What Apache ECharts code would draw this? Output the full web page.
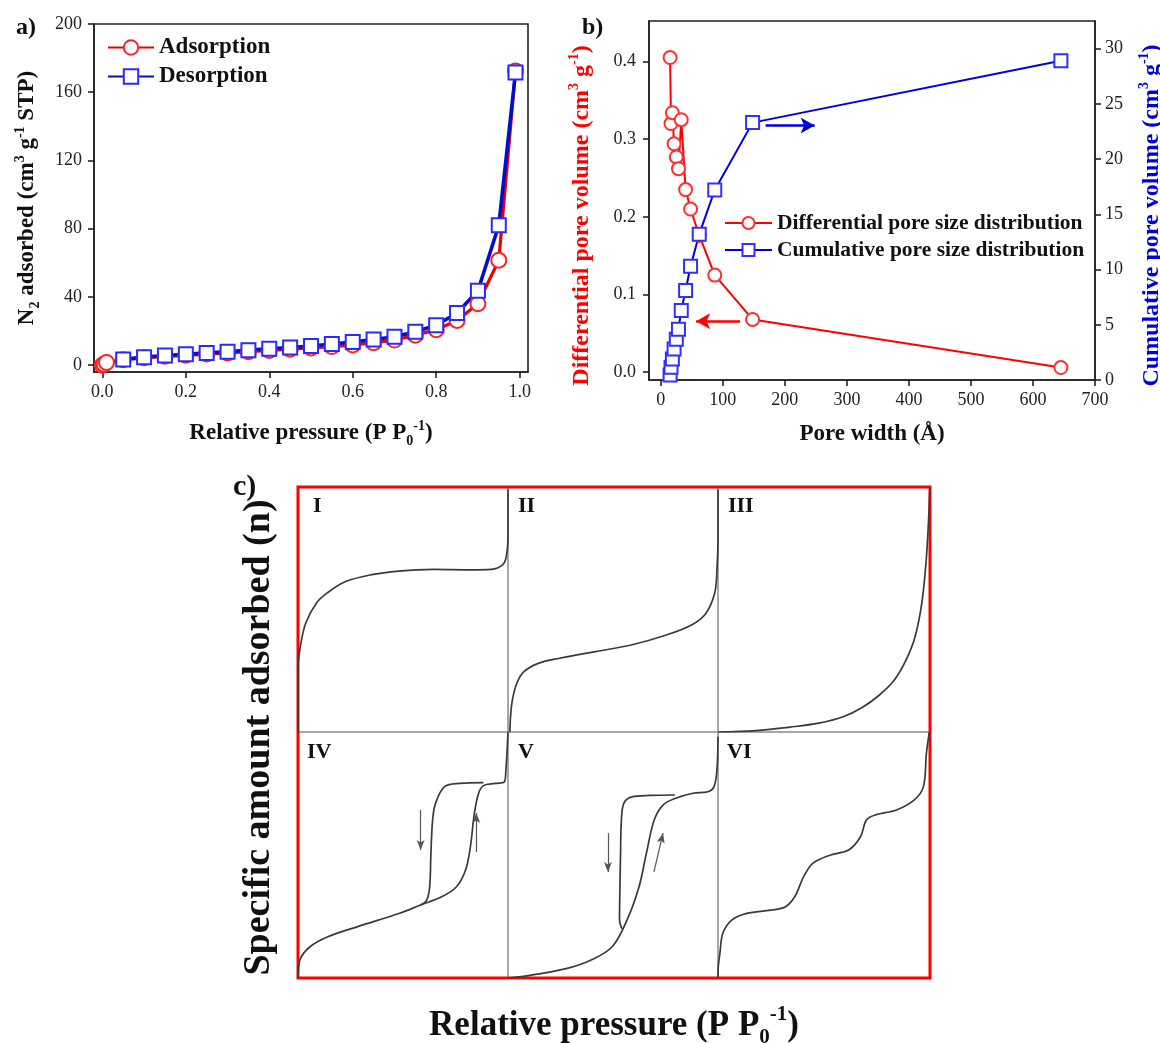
<!DOCTYPE html>
<html><head><meta charset="utf-8">
<script src="https://cdn.jsdelivr.net/npm/echarts@6/dist/echarts.min.js"></script>
<style>html,body{margin:0;padding:0;background:#fff}#chart{width:1160px;height:1043px}</style>
</head><body><div id="chart"></div>
<script>
// ---------- Panel a: N2 isotherm ----------
const adsPressure = [0, 0.004, 0.01, 0.05, 0.10, 0.15, 0.20, 0.25, 0.30, 0.35, 0.40, 0.45, 0.50, 0.55, 0.60, 0.65, 0.70, 0.75, 0.80, 0.85, 0.90, 0.95, 0.99];
const adsorption  = [0, 0.6, 1.6, 3.2, 4.3, 5.2, 5.8, 6.5, 7.2, 7.9, 8.6, 9.4, 10.1, 10.9, 11.9, 13.2, 14.7, 17.6, 20.8, 26.2, 36, 61.5, 172.5];
const desPressure = [0.05, 0.10, 0.15, 0.20, 0.25, 0.30, 0.35, 0.40, 0.45, 0.50, 0.55, 0.60, 0.65, 0.70, 0.75, 0.80, 0.85, 0.90, 0.95, 0.99];
const desorption  = [3.4, 4.7, 5.7, 6.4, 7.2, 7.9, 8.8, 9.6, 10.3, 11.2, 12.4, 13.6, 15.0, 16.7, 19.6, 23.4, 30.6, 43.6, 82, 171.5];
const aXTicks = [0, 0.2, 0.4, 0.6, 0.8, 1.0];
const aYTicks = [0, 40, 80, 120, 160, 200];

// ---------- Panel b: pore size distribution ----------
const poreWidth    = [15, 16.5, 18.7, 21.4, 25, 28.5, 33, 40, 48, 62, 87, 148, 645];
const differential = [0.405, 0.320, 0.334, 0.294, 0.277, 0.262, 0.325, 0.235, 0.210, 0.176, 0.125, 0.068, 0.006];
const cumulative   = [0.45, 1.15, 1.9, 2.8, 3.7, 4.6, 6.3, 8.1, 10.3, 13.2, 17.2, 23.3, 28.9];
const bXTicks = [0, 100, 200, 300, 400, 500, 600, 700];
const bLeftTicks = [0, 0.1, 0.2, 0.3, 0.4];
const bRightTicks = [0, 5, 10, 15, 20, 25, 30];
const redArrow  = [[128, 0.0655], [57, 0.0655]];
const blueArrow = [[169, 23.05], [248, 23.05]];

// ---------- Panel c: IUPAC isotherm types (relative pressure 0..1, amount 0..1) ----------
const typeI_p  = [0, 0, 0.011, 0.037, 0.088, 0.138, 0.224, 0.344, 0.48, 0.649, 0.821, 0.921, 0.974, 0.992, 1.0, 1.0];
const typeI_n  = [0, 0.265, 0.348, 0.445, 0.527, 0.567, 0.613, 0.641, 0.657, 0.664, 0.662, 0.664, 0.682, 0.716, 0.797, 0.99];
const typeII_p = [0.009, 0.012, 0.021, 0.042, 0.076, 0.144, 0.245, 0.416, 0.586, 0.754, 0.874, 0.942, 0.984, 0.995, 1.0, 1.0];
const typeII_n = [0, 0.062, 0.131, 0.199, 0.246, 0.280, 0.301, 0.328, 0.355, 0.396, 0.437, 0.484, 0.566, 0.661, 0.797, 0.99];
const typeIII_p = [0, 0.18, 0.34, 0.475, 0.59, 0.68, 0.76, 0.83, 0.885, 0.93, 0.962, 0.982, 0.993, 1.0];
const typeIII_n = [0, 0.006, 0.02, 0.036, 0.062, 0.10, 0.15, 0.21, 0.29, 0.39, 0.53, 0.70, 0.86, 1.0];
const typeIVads_p = [0, 0.009, 0.057, 0.142, 0.285, 0.484, 0.584, 0.684, 0.755, 0.798, 0.821, 0.840, 0.860, 0.883, 0.940, 0.983, 0.990, 0.995, 1.0];
const typeIVads_n = [0, 0.073, 0.127, 0.168, 0.209, 0.263, 0.297, 0.330, 0.371, 0.439, 0.534, 0.670, 0.751, 0.782, 0.791, 0.798, 0.846, 0.913, 1.0];
const typeIVdes_p = [0.584, 0.613, 0.627, 0.633, 0.641, 0.655, 0.698, 0.770, 0.883];
const typeIVdes_n = [0.297, 0.317, 0.371, 0.507, 0.642, 0.710, 0.778, 0.791, 0.794];
const typeVads_p = [0, 0.111, 0.282, 0.396, 0.496, 0.567, 0.624, 0.659, 0.696, 0.738, 0.795, 0.881, 0.952, 0.981, 0.995, 1.0];
const typeVads_n = [0, 0.012, 0.039, 0.073, 0.127, 0.236, 0.371, 0.507, 0.642, 0.703, 0.730, 0.751, 0.757, 0.778, 0.846, 0.981];
const typeVdes_p = [0.543, 0.531, 0.533, 0.536, 0.540, 0.552, 0.590, 0.676, 0.795];
const typeVdes_n = [0.200, 0.236, 0.371, 0.507, 0.642, 0.711, 0.736, 0.742, 0.744];
const typeVI_p = [0, 0.002, 0.009, 0.023, 0.066, 0.136, 0.249, 0.319, 0.362, 0.390, 0.404, 0.447, 0.531, 0.616, 0.672, 0.700, 0.743, 0.842, 0.926, 0.969, 0.983, 0.997];
const typeVI_n = [0, 0.053, 0.100, 0.182, 0.236, 0.263, 0.276, 0.290, 0.330, 0.385, 0.412, 0.466, 0.500, 0.520, 0.574, 0.642, 0.663, 0.683, 0.724, 0.778, 0.913, 1.0];
const arrowsIV = [[[0.584, 0.683], [0.584, 0.52]], [[0.849, 0.512], [0.849, 0.671]]];
const arrowsV  = [[[0.476, 0.589], [0.476, 0.431]], [[0.695, 0.431], [0.738, 0.589]]];
const panelLabels = ['I', 'II', 'III', 'IV', 'V', 'VI'];

// ---------- build ----------
const FONT = "'Liberation Serif', 'Times New Roman', serif";
const zip = (a, b) => a.map((v, i) => [v, b[i]]);
function rich(fs, color) {
  return {
    b:   {fontFamily: FONT, fontWeight: 'bold', fontSize: fs, color, lineHeight: Math.round(fs * 1.25)},
    sup: {fontFamily: FONT, fontWeight: 'bold', fontSize: Math.round(fs * 0.6), color, lineHeight: Math.round(fs * 0.6), verticalAlign: 'top'},
    sub: {fontFamily: FONT, fontWeight: 'bold', fontSize: Math.round(fs * 0.6), color, lineHeight: Math.round(fs * 0.6), verticalAlign: 'bottom'}
  };
}
const AX = '#222';
function valueAxis(o) {
  return Object.assign({
    type: 'value',
    axisLine: {show: true, onZero: false, lineStyle: {color: AX, width: 1.6}},
    axisTick: {show: true, inside: false, length: 6, lineStyle: {color: AX, width: 1.6}, customValues: o.ticks},
    axisLabel: {customValues: o.ticks, fontFamily: FONT, fontSize: 18, color: AX, margin: o.margin, formatter: o.fmt},
    splitLine: {show: false},
    nameLocation: 'middle'
  }, o.extra);
}

const cCols = [298, 508, 718], cW = [210, 210, 212];
const cRows = [487, 732], cH = [245, 246];
const NB = {outerBoundsMode: 'none', containLabel: false};
const grids = [
  Object.assign({left: 94, top: 24, width: 434, height: 348, show: true, borderColor: AX, borderWidth: 1.6}, NB),
  Object.assign({left: 649, top: 21, width: 446, height: 359, show: true, borderColor: AX, borderWidth: 1.6}, NB)
];
for (let r = 0; r < 2; r++) for (let c = 0; c < 3; c++)
  grids.push(Object.assign({left: cCols[c], top: cRows[r], width: cW[c], height: cH[r], show: true, borderColor: '#8a8a8a', borderWidth: 1}, NB));
grids.push(Object.assign({left: 298, top: 487, width: 632, height: 491, show: true, borderColor: '#ff0000', borderWidth: 3}, NB));

const xAxes = [
  valueAxis({ticks: aXTicks, margin: 11, fmt: v => v.toFixed(1), extra: {gridIndex: 0, min: -0.02, max: 1.02,
    name: '{b|Relative pressure (P P}{sub|0}{sup|-1}{b|)}', nameGap: 47, nameTextStyle: {rich: rich(23, '#111')}}}),
  valueAxis({ticks: bXTicks, margin: 11, fmt: v => String(v), extra: {gridIndex: 1, min: -19, max: 700,
    name: '{b|Pore width (Å)}', nameGap: 40, nameTextStyle: {rich: rich(23, '#111')}}})
];
const yAxes = [
  valueAxis({ticks: aYTicks, margin: 12, fmt: v => String(v), extra: {gridIndex: 0, min: -4, max: 200,
    name: '{b|N}{sub|2}{b| adsorbed (cm}{sup|3}{b| g}{sup|-1}{b| STP)}', nameGap: 52, nameTextStyle: {rich: rich(23, '#111')}}}),
  valueAxis({ticks: bLeftTicks, margin: 13, fmt: v => v.toFixed(1), extra: {gridIndex: 1, min: -0.01, max: 0.452,
    name: '{b|Differential pore volume (cm}{sup|3}{b| g}{sup|-1}{b|)}', nameGap: 52,
    nameTextStyle: {rich: rich(24, '#ff0000'), padding: [0, 30, 0, 0]}}}),
  valueAxis({ticks: bRightTicks, margin: 10, fmt: v => String(v), extra: {gridIndex: 1, position: 'right', min: 0, max: 32.5,
    name: '{b|Cumulative pore volume (cm}{sup|3}{b| g}{sup|-1}{b|)}', nameGap: 42, nameRotate: 90,
    nameTextStyle: {rich: rich(24, '#0000dd'), padding: [0, 30, 0, 0]}}})
];
for (let i = 0; i < 6; i++) {
  xAxes.push({type: 'value', gridIndex: 2 + i, min: 0, max: 1, show: false});
  yAxes.push({type: 'value', gridIndex: 2 + i, min: 0, max: 1, show: false});
}
const hid = {axisLine: {show: false}, axisTick: {show: false}, axisLabel: {show: false}, splitLine: {show: false}};
xAxes.push(Object.assign({type: 'value', gridIndex: 8, min: 0, max: 1, nameLocation: 'middle', nameGap: 26,
  name: '{b|Relative pressure (P P}{sub|0}{sup|-1}{b|)}', nameTextStyle: {rich: rich(35, '#111')}}, hid));
yAxes.push(Object.assign({type: 'value', gridIndex: 8, min: 0, max: 1, nameLocation: 'middle', nameGap: 20,
  name: 'Specific amount adsorbed (n)',
  nameTextStyle: {fontFamily: FONT, fontWeight: 'bold', fontSize: 38, color: '#111', padding: [0, 10, 0, 0]}}, hid));

const series = [
  {name: 'Adsorption', type: 'line', xAxisIndex: 0, yAxisIndex: 0, data: zip(adsPressure, adsorption),
   symbol: 'emptyCircle', symbolSize: 15, lineStyle: {color: '#ee0000', width: 3.2}, itemStyle: {color: '#ff2020', borderWidth: 1.2}},
  {name: 'Desorption', type: 'line', xAxisIndex: 0, yAxisIndex: 0, data: zip(desPressure, desorption),
   symbol: 'emptyRect', symbolSize: 14, lineStyle: {color: '#0010c8', width: 3.6}, itemStyle: {color: '#2a2aff', borderWidth: 1.2}},
  {name: 'Differential pore size distribution', type: 'line', xAxisIndex: 1, yAxisIndex: 1, data: zip(poreWidth, differential),
   symbol: 'emptyCircle', symbolSize: 13, lineStyle: {color: '#ff0000', width: 2}, itemStyle: {color: '#ff3030', borderWidth: 1},
   markLine: {silent: true, symbol: ['none', 'arrow'], symbolSize: [12, 14], label: {show: false},
     lineStyle: {color: '#ff0000', width: 2.5, type: 'solid'},
     data: [[{coord: redArrow[0]}, {coord: redArrow[1]}]]}},
  {name: 'Cumulative pore size distribution', type: 'line', xAxisIndex: 1, yAxisIndex: 2, data: zip(poreWidth, cumulative),
   symbol: 'emptyRect', symbolSize: 13, lineStyle: {color: '#0000dd', width: 2}, itemStyle: {color: '#3030ff', borderWidth: 1},
   markLine: {silent: true, symbol: ['none', 'arrow'], symbolSize: [12, 14], label: {show: false},
     lineStyle: {color: '#0000dd', width: 2.5, type: 'solid'},
     data: [[{coord: blueArrow[0]}, {coord: blueArrow[1]}]]}}
];
function curve(idx, xs, ys, arrows) {
  const s = {type: 'line', xAxisIndex: 2 + idx, yAxisIndex: 3 + idx, data: zip(xs, ys), showSymbol: false, symbol: 'none',
    smooth: 0.35, lineStyle: {color: '#3a3a3a', width: 1.7}, silent: true};
  if (arrows) s.markLine = {silent: true, symbol: ['none', 'arrow'], symbolSize: [6, 10], label: {show: false},
    lineStyle: {color: '#555', width: 1.2, type: 'solid'},
    data: arrows.map(a => [{coord: a[0]}, {coord: a[1]}])};
  series.push(s);
}
curve(0, typeI_p, typeI_n);
curve(1, typeII_p, typeII_n);
curve(2, typeIII_p, typeIII_n);
curve(3, typeIVads_p, typeIVads_n, arrowsIV);
curve(3, typeIVdes_p, typeIVdes_n);
curve(4, typeVads_p, typeVads_n, arrowsV);
curve(4, typeVdes_p, typeVdes_n);
curve(5, typeVI_p, typeVI_n);

const labelPos = [[313, 506], [518, 506], [728, 506], [307, 752], [518, 752], [727, 752]];
const graphic = [
  {type: 'text', x: 16, y: 28, style: {text: 'a)', font: `bold 24px ${FONT}`, fill: '#111', verticalAlign: 'middle'}},
  {type: 'text', x: 582, y: 28, style: {text: 'b)', font: `bold 24px ${FONT}`, fill: '#111', verticalAlign: 'middle'}},
  {type: 'text', x: 233, y: 487, style: {text: 'c)', font: `bold 30px ${FONT}`, fill: '#111', verticalAlign: 'middle'}}
].concat(panelLabels.map((t, i) => ({type: 'text', x: labelPos[i][0], y: labelPos[i][1],
  style: {text: t, font: `bold 22px ${FONT}`, fill: '#111', verticalAlign: 'middle'}})));

const chart = echarts.init(document.getElementById('chart'), null, {renderer: 'canvas'});
chart.setOption({
  animation: false,
  backgroundColor: '#fff',
  grid: grids,
  xAxis: xAxes,
  yAxis: yAxes,
  legend: [
    {data: ['Adsorption', 'Desorption'], orient: 'vertical', left: 102, top: 31, itemWidth: 46, itemHeight: 18, itemGap: 6,
     textStyle: {fontFamily: FONT, fontWeight: 'bold', fontSize: 23, color: '#111'}},
    {data: ['Differential pore size distribution', 'Cumulative pore size distribution'], orient: 'vertical', left: 719, top: 207,
     itemWidth: 47, itemHeight: 15, itemGap: 5, textStyle: {fontFamily: FONT, fontWeight: 'bold', fontSize: 21.5, color: '#111'}}
  ],
  series,
  graphic
});
</script></body></html>
